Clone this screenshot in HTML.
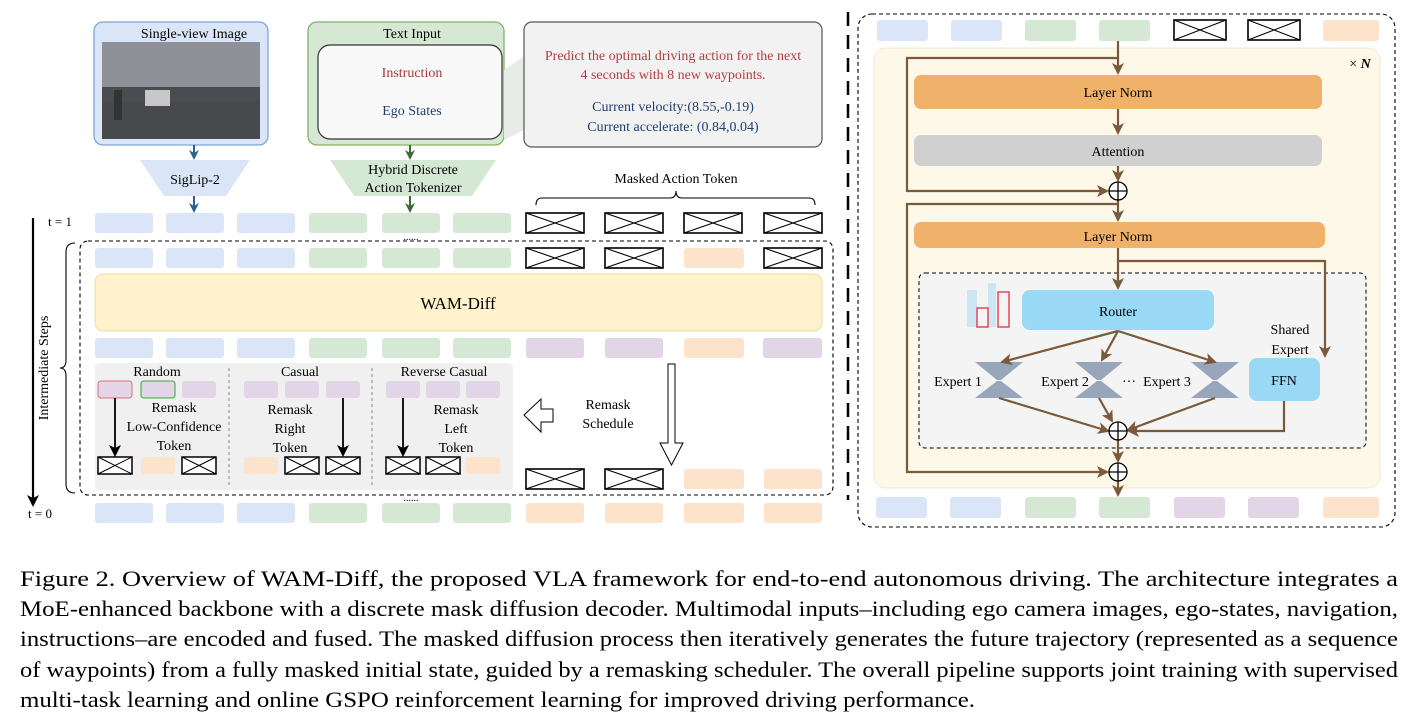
<!DOCTYPE html>
<html><head><meta charset="utf-8"><style>
html,body{margin:0;padding:0;background:#fff;width:1419px;height:718px;overflow:hidden}
svg text{font-family:"Liberation Serif",serif}
</style></head><body>
<svg width="1419" height="718" viewBox="0 0 1419 718" xmlns="http://www.w3.org/2000/svg">
<defs>
<g id="mk"><rect x="0" y="0" width="58" height="20" fill="#fff" stroke="#000" stroke-width="1.6"/><path d="M0 0L58 20M58 0L0 20" stroke="#000" stroke-width="1.1"/></g>
<g id="mks"><rect x="0" y="0" width="34" height="17" fill="#fff" stroke="#000" stroke-width="1.5"/><path d="M0 0L34 17M34 0L0 17" stroke="#000" stroke-width="1"/></g>
<g id="mkr"><rect x="0" y="0" width="52" height="20" fill="#fff" stroke="#000" stroke-width="1.6"/><path d="M0 0L52 20M52 0L0 20" stroke="#000" stroke-width="1.1"/></g>
<marker id="ab" markerWidth="10" markerHeight="10" refX="8" refY="5" orient="auto" markerUnits="userSpaceOnUse"><path d="M0 0L10 5L0 10L3 5Z" fill="#2a5f93"/></marker>
<marker id="ag" markerWidth="10" markerHeight="10" refX="8" refY="5" orient="auto" markerUnits="userSpaceOnUse"><path d="M0 0L10 5L0 10L3 5Z" fill="#3e6a30"/></marker>
<marker id="ak" markerWidth="12" markerHeight="12" refX="10" refY="6" orient="auto" markerUnits="userSpaceOnUse"><path d="M0 0L12 6L0 12L3 6Z" fill="#000"/></marker>
<marker id="ar" markerWidth="12" markerHeight="12" refX="10" refY="6" orient="auto" markerUnits="userSpaceOnUse"><path d="M0 0L12 6L0 12L3 6Z" fill="#7a5a3a"/></marker>
</defs>

<rect x="94" y="22" width="174" height="123" rx="9" fill="#dae6f7" stroke="#7ea6d8" stroke-width="1.3"/>
<text x="194" y="38" font-size="14" text-anchor="middle">Single-view Image</text>
<rect x="102" y="42" width="158" height="97" fill="#5e6064"/>
<rect x="102" y="42" width="158" height="45" fill="#8e9298"/>
<rect x="102" y="87" width="158" height="15" fill="#4a4c50"/>
<rect x="102" y="102" width="158" height="37" fill="#48494c"/>
<rect x="145" y="90" width="25" height="16" fill="#c8c8c8"/>
<rect x="114" y="90" width="8" height="30" fill="#333"/>

<rect x="308" y="22" width="196" height="123" rx="9" fill="#d5e8d4" stroke="#82b366" stroke-width="1.3"/>
<text x="412" y="38" font-size="14" text-anchor="middle">Text Input</text>
<rect x="318" y="45" width="184" height="94" rx="12" fill="#f9f9f9" stroke="#333" stroke-width="1.2"/>
<text x="412" y="77" font-size="14" text-anchor="middle" fill="#a33a3a">Instruction</text>
<text x="412" y="115" font-size="14" text-anchor="middle" fill="#1f3f6e">Ego States</text>
<path d="M504 70L524 56L524 130L504 140Z" fill="#e8ece6"/>
<rect x="524" y="22" width="298" height="125" rx="8" fill="#f2f2f2" stroke="#555" stroke-width="1.2"/>
<text x="673" y="60" font-size="14" text-anchor="middle" fill="#b04040">Predict the optimal driving action for the next</text>
<text x="673" y="79" font-size="14" text-anchor="middle" fill="#b04040">4 seconds with 8 new waypoints.</text>
<text x="673" y="111" font-size="14" text-anchor="middle" fill="#1f3f6e">Current velocity:(8.55,-0.19)</text>
<text x="673" y="131" font-size="14" text-anchor="middle" fill="#1f3f6e">Current accelerate: (0.84,0.04)</text>

<line x1="194" y1="145" x2="194" y2="158" stroke="#2a5f93" stroke-width="2" marker-end="url(#ab)"/>
<path d="M140 160L250 160L226 196L164 196Z" fill="#dae6f7"/>
<text x="195" y="184" font-size="14" text-anchor="middle">SigLip-2</text>
<line x1="194" y1="196" x2="194" y2="211" stroke="#2a5f93" stroke-width="2" marker-end="url(#ab)"/>
<line x1="410" y1="145" x2="410" y2="158" stroke="#3e6a30" stroke-width="2" marker-end="url(#ag)"/>
<path d="M330 160L496 160L472 196L354 196Z" fill="#d5e8d4"/>
<text x="413" y="174" font-size="14" text-anchor="middle">Hybrid Discrete</text>
<text x="413" y="192" font-size="14" text-anchor="middle">Action Tokenizer</text>
<line x1="410" y1="196" x2="410" y2="211" stroke="#3e6a30" stroke-width="2" marker-end="url(#ag)"/>

<text x="676" y="183" font-size="14" text-anchor="middle">Masked Action Token</text>
<path d="M536 205 Q536 198 542 198 L670 198 Q676 198 676 191 Q676 198 682 198 L809 198 Q815 198 815 205" fill="none" stroke="#000" stroke-width="1.1"/>

<text x="60" y="226" font-size="13" text-anchor="middle">t = 1</text>
<text x="40" y="518" font-size="13" text-anchor="middle">t = 0</text>
<line x1="33" y1="218" x2="33" y2="505" stroke="#000" stroke-width="2.2" marker-end="url(#ak)"/>
<path d="M75 243 Q66 243 66 252 L66 360 Q66 368 60 368 Q66 368 66 376 L66 484 Q66 493 75 493" fill="none" stroke="#000" stroke-width="1.1"/>
<text transform="translate(48,368) rotate(-90)" font-size="14" text-anchor="middle">Intermediate Steps</text>

<rect x="95" y="213" width="58" height="20" rx="3" fill="#dae6f7"/>
<rect x="166" y="213" width="58" height="20" rx="3" fill="#dae6f7"/>
<rect x="237" y="213" width="58" height="20" rx="3" fill="#dae6f7"/>
<rect x="309" y="213" width="58" height="20" rx="3" fill="#d5e8d4"/>
<rect x="382" y="213" width="58" height="20" rx="3" fill="#d5e8d4"/>
<rect x="453" y="213" width="58" height="20" rx="3" fill="#d5e8d4"/>
<use href="#mk" x="526" y="213"/><use href="#mk" x="605" y="213"/><use href="#mk" x="684" y="213"/><use href="#mk" x="764" y="213"/>
<text x="411" y="240" font-size="10" text-anchor="middle">......</text>

<rect x="80" y="241" width="753" height="254" rx="8" fill="none" stroke="#000" stroke-width="1.1" stroke-dasharray="4,3"/>
<rect x="95" y="248" width="58" height="20" rx="3" fill="#dae6f7"/>
<rect x="166" y="248" width="58" height="20" rx="3" fill="#dae6f7"/>
<rect x="237" y="248" width="58" height="20" rx="3" fill="#dae6f7"/>
<rect x="309" y="248" width="58" height="20" rx="3" fill="#d5e8d4"/>
<rect x="382" y="248" width="58" height="20" rx="3" fill="#d5e8d4"/>
<rect x="453" y="248" width="58" height="20" rx="3" fill="#d5e8d4"/>
<use href="#mk" x="526" y="248"/><use href="#mk" x="605" y="248"/>
<rect x="684" y="248" width="60" height="20" rx="3" fill="#fde3cc"/>
<use href="#mk" x="764" y="248"/>

<rect x="95" y="274" width="727" height="57" rx="8" fill="#fff2cc" stroke="#f2dc9e" stroke-width="1"/>
<text x="458" y="309" font-size="17" text-anchor="middle">WAM-Diff</text>

<rect x="95" y="338" width="58" height="20" rx="3" fill="#dae6f7"/>
<rect x="166" y="338" width="58" height="20" rx="3" fill="#dae6f7"/>
<rect x="237" y="338" width="58" height="20" rx="3" fill="#dae6f7"/>
<rect x="309" y="338" width="58" height="20" rx="3" fill="#d5e8d4"/>
<rect x="382" y="338" width="58" height="20" rx="3" fill="#d5e8d4"/>
<rect x="453" y="338" width="58" height="20" rx="3" fill="#d5e8d4"/>
<rect x="526" y="338" width="58" height="20" rx="3" fill="#e1d5e7"/>
<rect x="605" y="338" width="58" height="20" rx="3" fill="#e1d5e7"/>
<rect x="684" y="338" width="60" height="20" rx="3" fill="#fde3cc"/>
<rect x="763" y="338" width="59" height="20" rx="3" fill="#e1d5e7"/>

<rect x="95" y="363" width="418" height="127" rx="4" fill="#f0f0f0"/>
<line x1="229" y1="368" x2="229" y2="486" stroke="#888" stroke-dasharray="3,3"/>
<line x1="372" y1="368" x2="372" y2="486" stroke="#888" stroke-dasharray="3,3"/>
<text x="157" y="376" font-size="14" text-anchor="middle">Random</text>
<text x="300" y="376" font-size="14" text-anchor="middle">Casual</text>
<text x="444" y="376" font-size="14" text-anchor="middle">Reverse Casual</text>
<rect x="98" y="381" width="34" height="17" rx="3" fill="#e1d5e7" stroke="#e07070"/>
<rect x="141" y="381" width="34" height="17" rx="3" fill="#e1d5e7" stroke="#5bb55b" stroke-width="1.3"/>
<rect x="182" y="381" width="34" height="17" rx="3" fill="#e1d5e7"/>
<rect x="244" y="381" width="34" height="17" rx="3" fill="#e1d5e7"/>
<rect x="285" y="381" width="34" height="17" rx="3" fill="#e1d5e7"/>
<rect x="326" y="381" width="34" height="17" rx="3" fill="#e1d5e7"/>
<rect x="386" y="381" width="34" height="17" rx="3" fill="#e1d5e7"/>
<rect x="426" y="381" width="34" height="17" rx="3" fill="#e1d5e7"/>
<rect x="466" y="381" width="34" height="17" rx="3" fill="#e1d5e7"/>
<text x="174" y="412" font-size="14" text-anchor="middle">Remask</text>
<text x="174" y="431" font-size="14" text-anchor="middle">Low-Confidence</text>
<text x="174" y="450" font-size="14" text-anchor="middle">Token</text>
<text x="290" y="414" font-size="14" text-anchor="middle">Remask</text>
<text x="290" y="433" font-size="14" text-anchor="middle">Right</text>
<text x="290" y="452" font-size="14" text-anchor="middle">Token</text>
<text x="456" y="414" font-size="14" text-anchor="middle">Remask</text>
<text x="456" y="433" font-size="14" text-anchor="middle">Left</text>
<text x="456" y="452" font-size="14" text-anchor="middle">Token</text>
<line x1="115" y1="398" x2="115" y2="455" stroke="#000" stroke-width="1.8" marker-end="url(#ak)"/>
<line x1="343" y1="398" x2="343" y2="455" stroke="#000" stroke-width="1.8" marker-end="url(#ak)"/>
<line x1="403" y1="398" x2="403" y2="455" stroke="#000" stroke-width="1.8" marker-end="url(#ak)"/>
<use href="#mks" x="98" y="457"/>
<rect x="141" y="457" width="34" height="17" rx="3" fill="#fde3cc"/>
<use href="#mks" x="182" y="457"/>
<rect x="244" y="457" width="34" height="17" rx="3" fill="#fde3cc"/>
<use href="#mks" x="285" y="457"/><use href="#mks" x="326" y="457"/>
<use href="#mks" x="386" y="457"/><use href="#mks" x="426" y="457"/>
<rect x="466" y="457" width="34" height="17" rx="3" fill="#fde3cc"/>

<path d="M524 415L541 399L541 409L553 409L553 422L541 422L541 432Z" fill="#fff" stroke="#000" stroke-width="1"/>
<text x="608" y="409" font-size="14" text-anchor="middle">Remask</text>
<text x="608" y="428" font-size="14" text-anchor="middle">Schedule</text>
<path d="M668 364L675 364L675 443L683 443L671.5 465L660 443L668 443Z" fill="#fff" stroke="#000" stroke-width="1"/>

<use href="#mk" x="526" y="469"/><use href="#mk" x="605" y="469"/>
<rect x="684" y="469" width="60" height="20" rx="3" fill="#fde3cc"/>
<rect x="764" y="469" width="58" height="20" rx="3" fill="#fde3cc"/>
<text x="411" y="501" font-size="10" text-anchor="middle">......</text>

<rect x="95" y="503" width="58" height="20" rx="3" fill="#dae6f7"/>
<rect x="166" y="503" width="58" height="20" rx="3" fill="#dae6f7"/>
<rect x="237" y="503" width="58" height="20" rx="3" fill="#dae6f7"/>
<rect x="309" y="503" width="58" height="20" rx="3" fill="#d5e8d4"/>
<rect x="382" y="503" width="58" height="20" rx="3" fill="#d5e8d4"/>
<rect x="453" y="503" width="58" height="20" rx="3" fill="#d5e8d4"/>
<rect x="526" y="503" width="58" height="20" rx="3" fill="#fde3cc"/>
<rect x="605" y="503" width="58" height="20" rx="3" fill="#fde3cc"/>
<rect x="684" y="503" width="60" height="20" rx="3" fill="#fde3cc"/>
<rect x="764" y="503" width="58" height="20" rx="3" fill="#fde3cc"/>

<line x1="848" y1="12" x2="848" y2="500" stroke="#000" stroke-width="2.5" stroke-dasharray="14,9"/>

<rect x="858" y="14" width="537" height="513" rx="14" fill="none" stroke="#000" stroke-width="1.1" stroke-dasharray="4,3"/>
<rect x="877" y="20" width="51" height="21" rx="3" fill="#dae6f7"/>
<rect x="951" y="20" width="51" height="21" rx="3" fill="#dae6f7"/>
<rect x="1025" y="20" width="51" height="21" rx="3" fill="#d5e8d4"/>
<rect x="1099" y="20" width="51" height="21" rx="3" fill="#d5e8d4"/>
<use href="#mkr" x="1174" y="20"/><use href="#mkr" x="1248" y="20"/>
<rect x="1323" y="20" width="56" height="21" rx="3" fill="#fde3cc"/>

<rect x="874" y="48" width="506" height="440" rx="12" fill="#fdf8e8" stroke="#f0ead0"/>
<text x="1360" y="68" font-size="14" text-anchor="middle">× <tspan font-style="italic" font-weight="bold">N</tspan></text>
<rect x="914" y="75" width="408" height="34" rx="7" fill="#f0b26b"/>
<text x="1118" y="97" font-size="14" text-anchor="middle">Layer Norm</text>
<rect x="914" y="135" width="408" height="31" rx="7" fill="#d0d0d0"/>
<text x="1118" y="156" font-size="14" text-anchor="middle">Attention</text>
<rect x="914" y="222" width="411" height="26" rx="7" fill="#f0b26b"/>
<text x="1118" y="241" font-size="14" text-anchor="middle">Layer Norm</text>

<rect x="919" y="273" width="447" height="175" rx="6" fill="#f4f4f4" stroke="#000" stroke-width="1" stroke-dasharray="4,3"/>
<rect x="967" y="290" width="10" height="37" fill="#cce6f4"/>
<rect x="988" y="283" width="8" height="44" fill="#cce6f4"/>
<rect x="977" y="308" width="11" height="19" fill="none" stroke="#e04a5a" stroke-width="1.5"/>
<rect x="998" y="292" width="11" height="35" fill="none" stroke="#e04a5a" stroke-width="1.5"/>
<rect x="1022" y="290" width="192" height="40" rx="8" fill="#99d9f5"/>
<text x="1118" y="316" font-size="14" text-anchor="middle">Router</text>
<text x="1290" y="334" font-size="14" text-anchor="middle">Shared</text>
<text x="1290" y="354" font-size="14" text-anchor="middle">Expert</text>
<rect x="1249" y="358" width="71" height="43" rx="8" fill="#99d9f5"/>
<text x="1284" y="385" font-size="14" text-anchor="middle">FFN</text>
<g fill="#98a6bc">
<path d="M975 362L1023 362L1001 380L997 380Z"/><path d="M997 381L1001 381L1023 398L975 398Z"/>
<path d="M1075 362L1123 362L1101 380L1097 380Z"/><path d="M1097 381L1101 381L1123 398L1075 398Z"/>
<path d="M1191 362L1239 362L1217 380L1213 380Z"/><path d="M1213 381L1217 381L1239 398L1191 398Z"/>
</g>
<text x="958" y="386" font-size="14" text-anchor="middle">Expert 1</text>
<text x="1065" y="386" font-size="14" text-anchor="middle">Expert 2</text>
<text x="1129" y="386" font-size="14" text-anchor="middle">···</text>
<text x="1167" y="386" font-size="14" text-anchor="middle">Expert 3</text>

<g stroke="#7a5a3a" stroke-width="2.2" fill="none">
<line x1="1118" y1="41" x2="1118" y2="73" marker-end="url(#ar)"/>
<polyline points="1118,58 907,58 907,191 1107,191" marker-end="url(#ar)"/>
<line x1="1118" y1="109" x2="1118" y2="133" marker-end="url(#ar)"/>
<line x1="1118" y1="166" x2="1118" y2="180" marker-end="url(#ar)"/>
<line x1="1118" y1="200" x2="1118" y2="220" marker-end="url(#ar)"/>
<polyline points="1118,204 907,204 907,472 1107,472" marker-end="url(#ar)"/>
<line x1="1118" y1="248" x2="1118" y2="288" marker-end="url(#ar)"/>
<polyline points="1118,261 1325,261 1325,356" marker-end="url(#ar)"/>
<line x1="1118" y1="331" x2="1002" y2="362" marker-end="url(#ar)"/>
<line x1="1118" y1="331" x2="1102" y2="360" marker-end="url(#ar)"/>
<line x1="1118" y1="331" x2="1215" y2="362" marker-end="url(#ar)"/>
<line x1="999" y1="398" x2="1108" y2="431" marker-end="url(#ar)"/>
<line x1="1099" y1="398" x2="1112" y2="421" marker-end="url(#ar)"/>
<line x1="1215" y1="398" x2="1128" y2="430" marker-end="url(#ar)"/>
<polyline points="1284,401 1284,431 1129,431" marker-end="url(#ar)"/>
<line x1="1118" y1="440" x2="1118" y2="461" marker-end="url(#ar)"/>
<line x1="1118" y1="481" x2="1118" y2="495" marker-end="url(#ar)"/>
</g>
<g stroke="#000" stroke-width="1.3" fill="#fff">
<circle cx="1118" cy="191" r="9"/><path d="M1109 191H1127M1118 182V200"/>
<circle cx="1118" cy="431" r="9"/><path d="M1109 431H1127M1118 422V440"/>
<circle cx="1118" cy="472" r="9"/><path d="M1109 472H1127M1118 463V481"/>
</g>

<rect x="876" y="497" width="51" height="21" rx="3" fill="#dae6f7"/>
<rect x="950" y="497" width="51" height="21" rx="3" fill="#dae6f7"/>
<rect x="1025" y="497" width="51" height="21" rx="3" fill="#d5e8d4"/>
<rect x="1099" y="497" width="51" height="21" rx="3" fill="#d5e8d4"/>
<rect x="1174" y="497" width="51" height="21" rx="3" fill="#e1d5e7"/>
<rect x="1248" y="497" width="51" height="21" rx="3" fill="#e1d5e7"/>
<rect x="1323" y="497" width="56" height="21" rx="3" fill="#fde3cc"/>

<g font-size="22">
<text x="20" y="586" textLength="1378" lengthAdjust="spacingAndGlyphs">Figure 2.  Overview of WAM-Diff, the proposed VLA framework for end-to-end autonomous driving.  The architecture integrates a</text>
<text x="20" y="616" textLength="1378" lengthAdjust="spacingAndGlyphs">MoE-enhanced backbone with a discrete mask diffusion decoder. Multimodal inputs–including ego camera images, ego-states, navigation,</text>
<text x="20" y="646" textLength="1378" lengthAdjust="spacingAndGlyphs">instructions–are encoded and fused.  The masked diffusion process then iteratively generates the future trajectory (represented as a sequence</text>
<text x="20" y="677" textLength="1378" lengthAdjust="spacingAndGlyphs">of waypoints) from a fully masked initial state, guided by a remasking scheduler. The overall pipeline supports joint training with supervised</text>
<text x="20" y="707" textLength="955" lengthAdjust="spacingAndGlyphs">multi-task learning and online GSPO reinforcement learning for improved driving performance.</text>
</g>
</svg>
</body></html>
